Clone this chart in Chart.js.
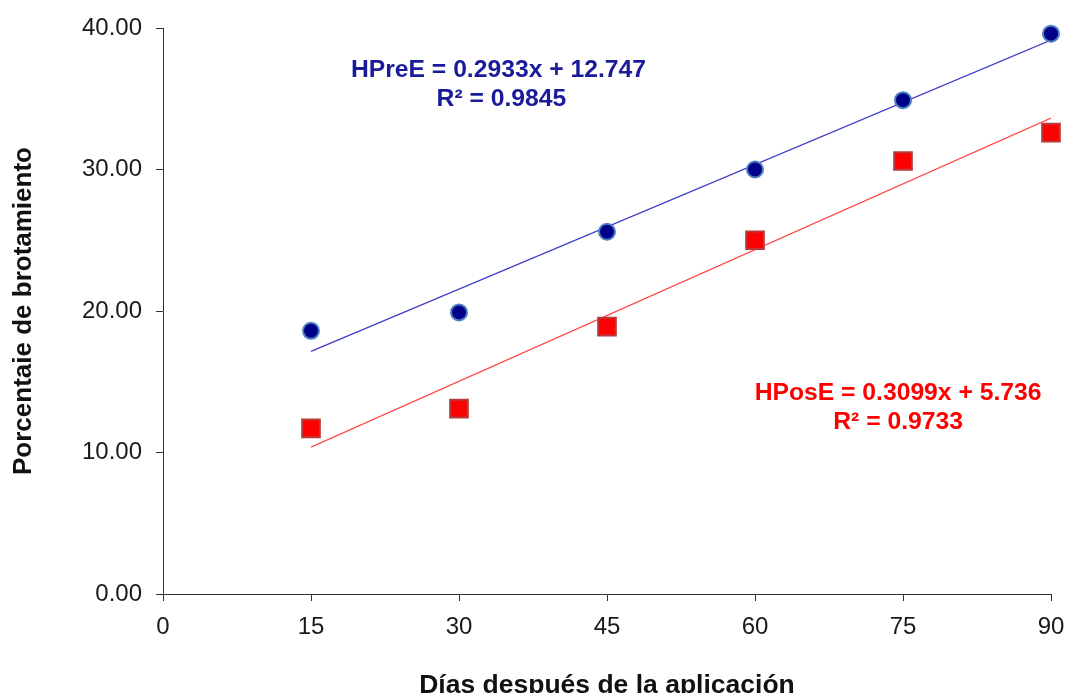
<!DOCTYPE html>
<html>
<head>
<meta charset="utf-8">
<script src="https://cdn.jsdelivr.net/npm/chart.js@4/dist/chart.umd.min.js"></script>
<style>
  html, body { margin: 0; padding: 0; background: #fff; overflow: hidden; }
</style>
</head>
<body>
<canvas id="myChart" width="1067" height="693"></canvas>
<script>
// Días después de la aplicación
const days = [15, 30, 45, 60, 75, 90];
// porcentaje de brotamiento
const hpreE = [18.6, 19.9, 25.6, 30.0, 34.9, 39.6];
const hposE = [11.7, 13.1, 18.9, 25.0, 30.6, 32.6];

// trend lines (end points, x = 15 and x = 90)
const trendX = [15, 90];
const trendPre = [17.15, 39.14];
const trendPos = [10.38, 33.63];

const xTicks = [0, 15, 30, 45, 60, 75, 90];
const yTicks = [0, 10, 20, 30, 40];

const toPoints = (xs, ys) => xs.map((x, i) => ({ x: x, y: ys[i] }));

// equation labels
const labels = [
    { text: 'HPreE = 0.2933x + 12.747', x: 34, y: 37.0, color: '#1a1a9a' },
    { text: 'R² = 0.9845', x: 34.3, y: 35.0, color: '#1a1a9a' },
    { text: 'HPosE = 0.3099x + 5.736', x: 74.5, y: 14.2, color: '#ff0000' },
    { text: 'R² = 0.9733', x: 74.5, y: 12.15, color: '#ff0000' }
];

const FONT = '"Liberation Sans", Arial, sans-serif';

const eqPlugin = {
    id: 'eqLabels',
    afterDatasetsDraw(chart) {
        const c = chart.ctx;
        const sx = chart.scales.x, sy = chart.scales.y;
        c.save();
        c.font = 'bold 24.7px ' + FONT;
        c.textAlign = 'center';
        c.textBaseline = 'middle';
        labels.forEach(l => {
            c.fillStyle = l.color;
            c.fillText(l.text, sx.getPixelForValue(l.x), sy.getPixelForValue(l.y));
        });
        c.restore();
    }
};

const ctx = document.getElementById('myChart').getContext('2d');
const myChart = new Chart(ctx, {
    type: 'scatter',
    data: {
        datasets: [{
            label: 'HPreE',
            data: toPoints(days, hpreE),
            pointStyle: 'circle',
            pointRadius: 8,
            pointHoverRadius: 8,
            backgroundColor: '#000088',
            borderColor: '#4f7fc0',
            borderWidth: 2,
            clip: false,
            order: 1
        }, {
            label: 'HPosE',
            data: toPoints(days, hposE),
            pointStyle: 'rect',
            pointRadius: 12.5,
            pointHoverRadius: 12.5,
            backgroundColor: '#ff0000',
            borderColor: '#b83a3a',
            borderWidth: 2,
            clip: false,
            order: 2
        }, {
            type: 'line',
            label: 'trend HPreE',
            data: toPoints(trendX, trendPre),
            borderColor: '#3c3cc8',
            borderWidth: 1.2,
            pointRadius: 0,
            fill: false,
            order: 3
        }, {
            type: 'line',
            label: 'trend HPosE',
            data: toPoints(trendX, trendPos),
            borderColor: '#ff4a4a',
            borderWidth: 1.2,
            pointRadius: 0,
            fill: false,
            order: 4
        }]
    },
    options: {
        responsive: false,
        animation: false,
        layout: {
            padding: { top: 28, right: 16, bottom: 0, left: 0 }
        },
        plugins: {
            legend: { display: false },
            tooltip: { enabled: false }
        },
        scales: {
            x: {
                type: 'linear',
                min: 0,
                max: 90,
                afterBuildTicks: s => { s.ticks = xTicks.map(v => ({ value: v })); },
                afterFit: s => { s.height = 99; s.paddingLeft = 0; s.paddingRight = 0; },
                grid: {
                    drawOnChartArea: false,
                    drawTicks: true,
                    tickLength: 7,
                    color: '#333'
                },
                border: { display: true, color: '#333', width: 1 },
                ticks: {
                    padding: 12,
                    color: '#1a1a1a',
                    font: { family: FONT, size: 24 }
                },
                title: {
                    display: true,
                    text: 'Días después de la aplicación',
                    color: '#111',
                    padding: { top: 0, bottom: -3 },
                    font: { family: FONT, size: 26.5, weight: 'bold', lineHeight: 0.8 }
                }
            },
            y: {
                type: 'linear',
                min: 0,
                max: 40,
                afterBuildTicks: s => { s.ticks = yTicks.map(v => ({ value: v })); },
                afterFit: s => { s.width = 163; s.paddingTop = 0; s.paddingBottom = 0; },
                grid: {
                    drawOnChartArea: false,
                    drawTicks: true,
                    tickLength: 7,
                    color: '#333'
                },
                border: { display: true, color: '#333', width: 1 },
                ticks: {
                    padding: 14,
                    color: '#1a1a1a',
                    callback: v => v.toFixed(2),
                    font: { family: FONT, size: 24 }
                },
                title: {
                    display: true,
                    text: 'Porcentaie de brotamiento',
                    color: '#111',
                    padding: { top: 8, bottom: 0 },
                    font: { family: FONT, size: 26, weight: 'bold', lineHeight: 1.2 }
                }
            }
        }
    },
    plugins: [eqPlugin]
});
</script>
</body>
</html>
